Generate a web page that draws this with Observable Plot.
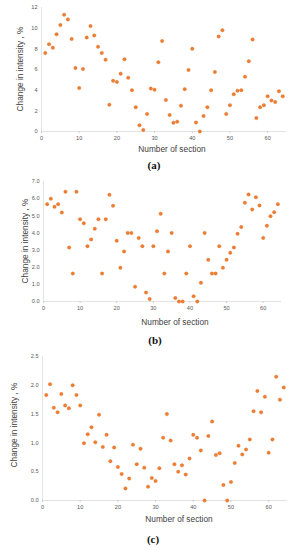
<!DOCTYPE html>
<html>
<head>
<meta charset="utf-8">
<script src="https://cdn.jsdelivr.net/npm/d3@7"></script>
<script src="https://cdn.jsdelivr.net/npm/@observablehq/plot@0.6"></script>
<style>
  html, body { margin: 0; padding: 0; background: #fff; }
  #root { position: relative; width: 290px; height: 550px; overflow: hidden; font-family: "Liberation Sans", Arial, sans-serif; }
  .panel { position: absolute; left: 0; }
  .xlab { position: absolute; font-size: 8.3px; color: #404040; transform: translate(-50%, -50%); white-space: nowrap; }
  .ylab { position: absolute; font-size: 8.3px; color: #404040; transform: translate(-50%, -50%) rotate(-90deg); white-space: nowrap; }
  .cap { position: absolute; font-family: "Liberation Serif", "Times New Roman", serif; font-weight: bold; font-size: 11px; color: #111; transform: translate(-50%, -50%); }
</style>
</head>
<body>
<div id="root"></div>
<script>
const sections = [1,2,3,4,5,6,7,8,9,10,11,12,13,14,15,16,17,18,19,20,21,22,23,24,25,26,27,28,29,30,31,32,33,34,35,36,37,38,39,40,41,42,43,44,45,46,47,48,49,50,51,52,53,54,55,56,57,58,59,60,61,62,63,64];

const valuesA = [7.6,8.45,8.1,9.4,10.3,11.3,10.85,8.95,6.15,4.2,6.05,9.1,10.2,9.3,8.2,7.6,6.95,2.6,4.9,4.8,5.6,7.0,5.2,4.0,2.35,0.6,0.15,1.7,4.15,4.05,6.7,8.75,3.05,1.6,0.85,0.95,2.5,4.1,5.95,8.0,0.87,0.0,1.5,2.35,4.0,5.75,9.2,9.8,1.7,2.55,3.6,3.95,4.0,5.3,6.8,8.9,1.3,2.35,2.55,3.4,3.0,2.85,3.9,3.4];

const valuesB = [5.68,6.0,5.52,5.68,5.19,6.4,3.15,1.63,6.4,4.8,4.57,3.23,3.62,4.24,4.8,1.63,4.8,6.22,5.58,3.54,1.97,2.92,4.0,4.0,0.86,3.7,3.23,0.52,0.14,3.23,4.1,5.12,1.63,2.92,4.0,0.2,0.0,0.0,1.63,3.23,0.3,0.0,1.09,4.0,2.43,1.63,1.63,3.23,1.97,2.43,2.84,3.15,3.95,4.34,5.76,6.24,5.37,6.08,5.6,3.71,4.42,4.98,5.21,5.68];

const valuesC = [1.83,2.02,1.61,1.53,1.85,1.65,1.6,2.0,1.83,1.65,0.995,1.15,1.27,1.01,1.49,0.93,1.14,0.68,0.92,0.58,0.46,0.21,0.38,0.97,0.63,0.9,0.57,0.24,0.39,0.34,0.56,1.09,1.5,1.04,0.63,0.5,0.61,0.45,0.73,1.14,1.09,0.87,0.0,1.12,1.37,0.79,0.82,0.27,0.0,0.32,0.65,0.95,0.8,0.885,1.06,1.55,1.9,1.53,1.8,0.83,1.06,2.15,1.75,1.96];

const xTicks = [0,10,20,30,40,50,60];
const yTicksA = [0,2,4,6,8,10,12];
const yTicksB = [0,1,2,3,4,5,6,7];
const yTicksC = [0,0.5,1,1.5,2,2.5];

const xTitle = "Number of section";
const yTitle = "Change in intensity , %";
const captions = ["(a)", "(b)", "(c)"];

const root = document.getElementById("root");

function panel(values, yTicks, cfg) {
  const data = sections.map((s, i) => ({section: s, value: values[i]}));
  const yMax = yTicks[yTicks.length - 1];
  const chart = Plot.plot({
    width: 290,
    height: cfg.height,
    marginTop: 7,
    marginBottom: 14,
    marginLeft: cfg.ml,
    marginRight: cfg.mr,
    style: {fontFamily: "Liberation Sans, Arial, sans-serif", fontSize: "5.6px", color: "#595959", background: "transparent", overflow: "visible"},
    x: {domain: [0, 65]},
    y: {domain: [0, yMax]},
    marks: [
      Plot.ruleX([0], {y1: 0, y2: yMax, stroke: "#dcdcdc", strokeWidth: 0.8}),
      Plot.ruleY([0], {x1: 0, x2: 65, stroke: "#dcdcdc", strokeWidth: 0.8}),
      Plot.axisX({ticks: xTicks, tickSize: 2, tickPadding: 2.5, stroke: "#cfcfcf", label: null, fill: "#595959"}),
      Plot.axisY({ticks: yTicks, tickSize: 0, tickPadding: 4, label: null, fill: "#595959"}),
      Plot.dot(data, {x: "section", y: "value", r: 1.75, fill: "#ED7D31", stroke: "#e06a1f", strokeWidth: 0.3})
    ]
  });
  chart.classList.add("panel");
  chart.style.top = cfg.top + "px";
  root.appendChild(chart);

  const xl = document.createElement("div");
  xl.className = "xlab"; xl.textContent = xTitle;
  xl.style.left = cfg.xlx + "px"; xl.style.top = cfg.xly + "px";
  root.appendChild(xl);

  const yl = document.createElement("div");
  yl.className = "ylab"; yl.textContent = yTitle;
  yl.style.left = cfg.ylx + "px"; yl.style.top = cfg.yly + "px";
  root.appendChild(yl);

  const cp = document.createElement("div");
  cp.className = "cap"; cp.textContent = cfg.caption;
  cp.style.left = cfg.capx + "px"; cp.style.top = cfg.capy + "px";
  root.appendChild(cp);
}

panel(valuesA, yTicksA, {top: 0, height: 145, ml: 41, mr: 4, xlx: 172, xly: 149, ylx: 20, yly: 69, caption: captions[0], capx: 154, capy: 165});
panel(valuesB, yTicksB, {top: 174, height: 141, ml: 43, mr: 9, xlx: 175, xly: 322, ylx: 25, yly: 241, caption: captions[1], capx: 155, capy: 340});
panel(valuesC, yTicksC, {top: 349, height: 165, ml: 42, mr: 3, xlx: 179, xly: 519, ylx: 14, yly: 425, caption: captions[2], capx: 153, capy: 539});
</script>
</body>
</html>
